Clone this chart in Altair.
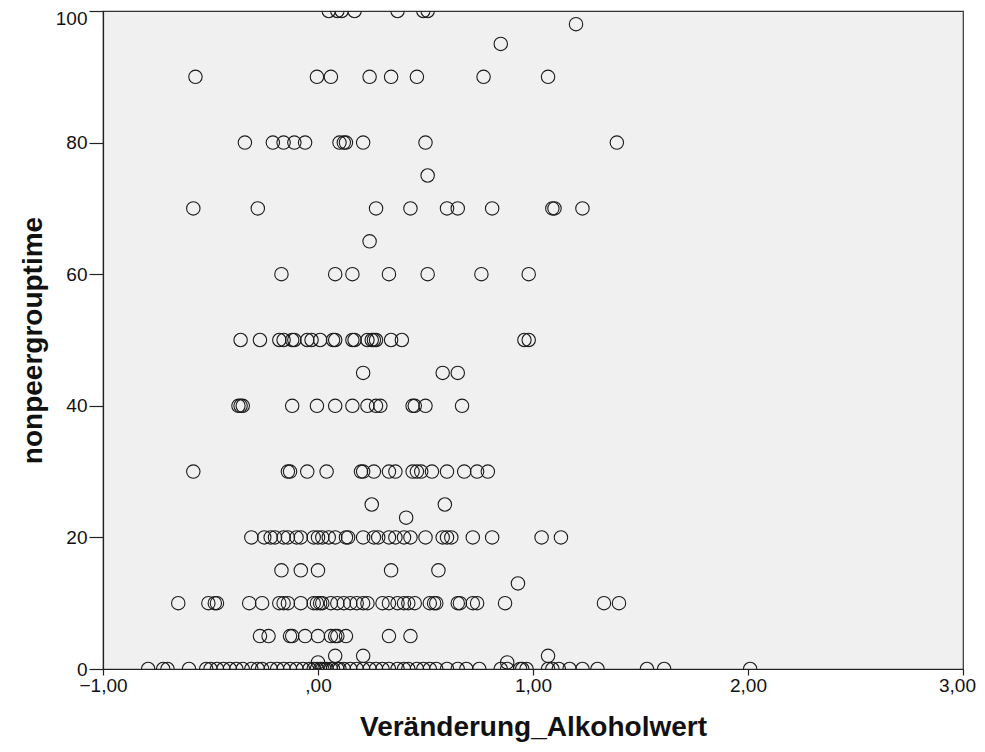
import altair as alt
import pandas as pd

# x values (Veränderung_Alkoholwert) grouped by their y value (nonpeergrouptime)
x_at_100 = [0.05, 0.09, 0.11, 0.17, 0.37, 0.49, 0.51]
x_at_98 = [1.20]
x_at_95 = [0.85]
x_at_90 = [-0.57, -0.005, 0.06, 0.24, 0.34, 0.46, 0.77, 1.07]
x_at_80 = [-0.34, -0.21, -0.16, -0.11, -0.06, 0.10, 0.12, 0.13, 0.21, 0.50, 1.39]
x_at_75 = [0.51]
x_at_70 = [-0.58, -0.28, 0.27, 0.43, 0.60, 0.65, 0.81, 1.09, 1.10, 1.23]
x_at_65 = [0.24]
x_at_60 = [-0.17, 0.08, 0.16, 0.33, 0.51, 0.76, 0.98]
x_at_50 = [-0.36, -0.27, -0.18, -0.16, -0.12, -0.11, -0.05, -0.03, 0.01, 0.07, 0.08,
           0.16, 0.17, 0.23, 0.25, 0.26, 0.27, 0.34, 0.39, 0.96, 0.98]
x_at_45 = [0.21, 0.58, 0.65]
x_at_40 = [-0.37, -0.36, -0.35, -0.12, -0.005, 0.08, 0.16, 0.23, 0.27, 0.29, 0.44,
           0.45, 0.50, 0.67]
x_at_30 = [-0.58, -0.14, -0.13, -0.05, 0.04, 0.20, 0.21, 0.26, 0.33, 0.36, 0.44, 0.46,
           0.48, 0.53, 0.60, 0.68, 0.74, 0.79]
x_at_25 = [0.25, 0.59]
x_at_23 = [0.41]
x_at_20 = [-0.31, -0.25, -0.22, -0.20, -0.16, -0.14, -0.10, -0.08, -0.02, 0.00, 0.02,
           0.05, 0.08, 0.13, 0.14, 0.21, 0.26, 0.28, 0.33, 0.36, 0.40, 0.43, 0.50,
           0.58, 0.60, 0.62, 0.72, 0.81, 1.04, 1.13]
x_at_15 = [-0.17, -0.08, 0.00, 0.34, 0.56]
x_at_13 = [0.93]
x_at_10 = [-0.65, -0.51, -0.48, -0.47, -0.32, -0.26, -0.18, -0.16, -0.14, -0.08, -0.02,
           -0.005, 0.01, 0.02, 0.06, 0.09, 0.12, 0.15, 0.18, 0.21, 0.23, 0.30, 0.33,
           0.37, 0.40, 0.42, 0.45, 0.52, 0.54, 0.55, 0.65, 0.66, 0.72, 0.74, 0.87,
           1.33, 1.40]
x_at_5 = [-0.27, -0.23, -0.13, -0.12, -0.06, 0.00, 0.06, 0.08, 0.09, 0.13, 0.33, 0.43]
x_at_2 = [0.08, 0.21, 1.07]
x_at_1 = [0.00, 0.88]
x_at_0 = [-0.79, -0.72, -0.70, -0.60, -0.52, -0.50, -0.47, -0.44, -0.41, -0.38, -0.35,
          -0.31, -0.28, -0.26, -0.22, -0.19, -0.16, -0.13, -0.10, -0.07, -0.04, -0.02,
          -0.005, 0.01, 0.02, 0.03, 0.04, 0.06, 0.07, 0.09, 0.10, 0.12, 0.15, 0.18,
          0.21, 0.24, 0.27, 0.30, 0.33, 0.37, 0.40, 0.42, 0.46, 0.49, 0.52, 0.55,
          0.60, 0.65, 0.69, 0.75, 0.85, 0.88, 0.94, 0.95, 0.97, 1.07, 1.09, 1.12,
          1.17, 1.23, 1.30, 1.53, 1.61, 2.01]

groups = {
    100: x_at_100, 98: x_at_98, 95: x_at_95, 90: x_at_90, 80: x_at_80, 75: x_at_75,
    70: x_at_70, 65: x_at_65, 60: x_at_60, 50: x_at_50, 45: x_at_45, 40: x_at_40,
    30: x_at_30, 25: x_at_25, 23: x_at_23, 20: x_at_20, 15: x_at_15, 13: x_at_13,
    10: x_at_10, 5: x_at_5, 2: x_at_2, 1: x_at_1, 0: x_at_0,
}

x_ticks = [-1, 0, 1, 2, 3]
y_ticks = [0, 20, 40, 60, 80, 100]

rows = [{"Veränderung_Alkoholwert": xv, "nonpeergrouptime": yv}
        for yv, xs in groups.items() for xv in xs]
df = pd.DataFrame(rows)

FONT = "Liberation Sans"

scatter = alt.Chart(df).mark_point(
    shape="circle", filled=False, size=180, stroke="#1a1a1a", strokeWidth=1.1,
    opacity=1, clip=True
).encode(
    x=alt.X("Veränderung_Alkoholwert:Q",
            scale=alt.Scale(domain=[-1, 3], nice=False, zero=False),
            axis=alt.Axis(values=x_ticks,
                          labelExpr="datum.value == 0 ? ',00' : replace(format(datum.value, '.2f'), '.', ',')",
                          title="Veränderung_Alkoholwert", grid=False, tickSize=6,
                          labelFlush=False, labelPadding=1, titlePadding=18,
                          labelOffset={"condition": {"test": "datum.value == 3", "value": -6},
                                       "value": 0},
                          zindex=1)),
    y=alt.Y("nonpeergrouptime:Q",
            scale=alt.Scale(domain=[0, 100], nice=False),
            axis=alt.Axis(values=y_ticks, title="nonpeergrouptime",
                          grid=False, tickSize=14, labelPadding=2, titlePadding=8,
                          labelFlush=False,
                          labelOffset={"condition": {"test": "datum.value == 100", "value": 7},
                                       "value": 0},
                          zindex=1)),
).properties(width=860, height=658)

chart = alt.hconcat(scatter, spacing=0).properties(
    padding={"left": 10, "top": 0, "right": 0, "bottom": 0},
).configure_view(
    fill="#f0f0f0", stroke="#333333", strokeWidth=1.2
).configure_axis(
    domainColor="#222222", tickColor="#222222", domainWidth=1.2, tickWidth=1.2,
    labelFont=FONT, labelFontSize=19, labelColor="#111111",
    titleFont=FONT, titleFontSize=28, titleFontWeight="bold", titleColor="#111111",
)

chart.save("out.html", embed_options={"renderer": "svg", "actions": False})
